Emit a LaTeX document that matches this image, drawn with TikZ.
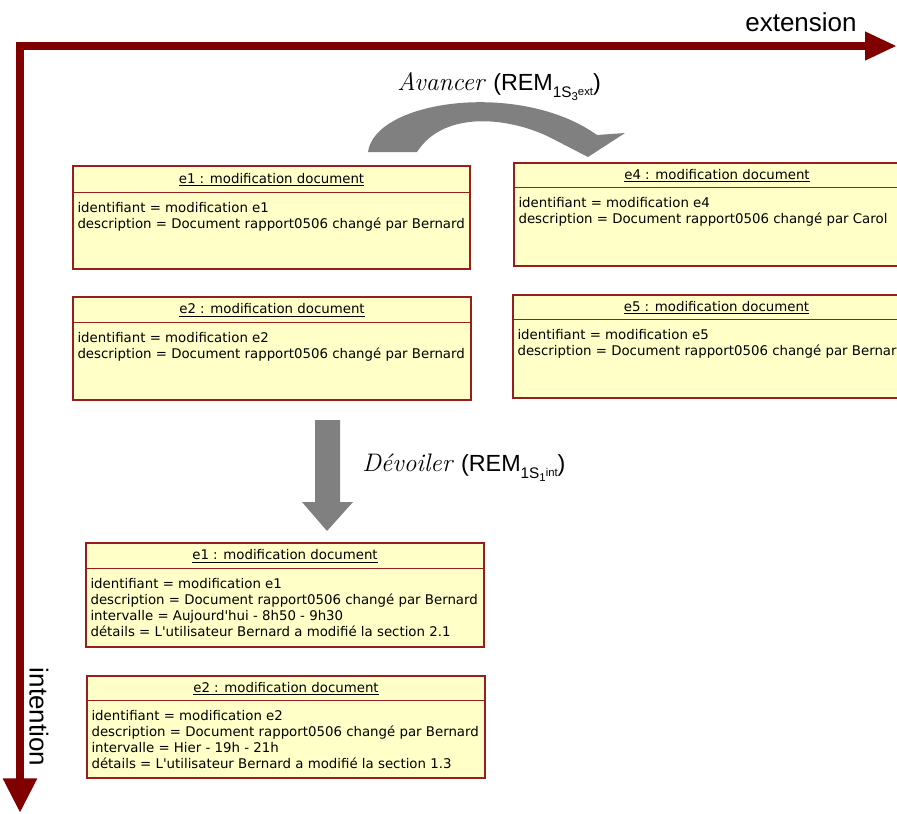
\documentclass[tikz,border=0pt]{standalone}
\usepackage{fontspec}
\usetikzlibrary{arrows.meta,fit,calc}
\newfontfamily\boxfont{DejaVu Sans}
\newfontfamily\arialfont{Liberation Sans}
\definecolor{axisred}{RGB}{128,0,0}
\definecolor{boxborder}{RGB}{150,30,30}
\definecolor{boxfill}{RGB}{255,255,200}
\definecolor{arrowgray}{RGB}{128,128,128}
\tikzset{
  axis/.style={draw=axisred, line width=6.4pt, line join=miter,
    {Triangle[length=24pt,width=20pt]}-{Triangle[length=26pt,width=24pt]}},
  umlbox/.style={draw=boxborder, fill=boxfill, line width=1.1pt, inner sep=0pt},
  boxline/.style={draw=boxborder, line width=1.1pt},
  umltitle/.style={font=\boxfont\fontsize{10}{12}\selectfont, inner sep=0pt},
  umlbody/.style={font=\boxfont\fontsize{10}{12}\selectfont, inner sep=0pt, align=left, anchor=north west},
  axislabel/.style={font=\arialfont\fontsize{19.5}{19.5}\selectfont, inner sep=0pt},
  oplabel/.style={inner sep=0pt, anchor=west},
}
\newcommand\umlbox[8]{%
  \coordinate (#1nw) at (#2,#3);
  \coordinate (#1se) at (#4,#5);
  \node[umlbox, fit=(#1nw)(#1se)] (#1) {};
  \draw[boxline] ($(#1.north west)+(0,#6)$) -- ($(#1.north east)+(0,#6)$);
  \node[umltitle] (#1title) at ($(#1.north)+(0,#6/2+1)$) {\underline{#7}};
  \node[umlbody] (#1body) at ($(#1.north west)+(5,#6+10)$) {#8};
}
\newcommand\remsub[2]{\arialfont(REM\raisebox{-5pt}{\fontsize{11.5}{11.5}\selectfont 1S\raisebox{-2.5pt}{\fontsize{8.5}{8.5}\selectfont #1}\raisebox{1.5pt}{\fontsize{8.5}{8.5}\selectfont #2}})}
\begin{document}
\begin{tikzpicture}[x=0.75pt,y=-0.75pt]
\clip (0,0) rectangle (897,814);
\fill[white] (0,0) rectangle (897,814);

% axes
\coordinate (origin) at (20,46);
\coordinate (xend) at (897,46);
\coordinate (yend) at (20,813);
\draw[axis] (xend) -- (origin) -- (yend);
\node[axislabel] (ext) at (801,22) {extension};
\node[axislabel, rotate=-90] (int) at (39,717) {intention};

% boxes
\umlbox{ea}{73}{166}{470}{269}{27}{e1 : modification document}{identifiant = modification e1\\description = Document rapport0506 changé par Bernard}
\umlbox{eb}{73}{297}{471}{400}{26}{e2 : modification document}{identifiant = modification e2\\description = Document rapport0506 changé par Bernard}
\umlbox{ed}{514}{163}{920}{266}{25}{e4 : modification document}{identifiant = modification e4\\description = Document rapport0506 changé par Carol}
\umlbox{ee}{513}{295}{920}{398}{25}{e5 : modification document}{identifiant = modification e5\\description = Document rapport0506 changé par Bernard}
\umlbox{fa}{86}{543}{484}{647}{26}{e1 : modification document}{identifiant = modification e1\\description = Document rapport0506 changé par Bernard\\intervalle = Aujourd'hui - 8h50 - 9h30\\détails = L'utilisateur Bernard a modifié la section 2.1}
\umlbox{fb}{87}{676}{485}{778}{25}{e2 : modification document}{identifiant = modification e2\\description = Document rapport0506 changé par Bernard\\intervalle = Hier - 19h - 21h\\détails = L'utilisateur Bernard a modifié la section 1.3}

% curved gray arrow (Avancer)
\fill[arrowgray] (368,152) .. controls (375,100) and (520,80) .. (597,135)
  -- (625,133) -- (588,157) -- (555,140)
  .. controls (515,118) and (445,108) .. (417,152) -- cycle;
\node[oplabel] (avancer) at (397,87) {\rmfamily\itshape\fontsize{19}{19}\selectfont Avancer\ \upshape\fontsize{17.5}{17.5}\selectfont\remsub{3}{ext}};

% straight gray arrow (Devoiler)
\fill[arrowgray] (315,420) -- (340,420) -- (340,502) -- (353,502) -- (327,531) -- (302,502) -- (315,502) -- cycle;
\node[oplabel] (devoiler) at (362,468) {\rmfamily\itshape\fontsize{19}{19}\selectfont Dévoiler\ \upshape\fontsize{17.5}{17.5}\selectfont\remsub{1}{int}};
\end{tikzpicture}
\end{document}
